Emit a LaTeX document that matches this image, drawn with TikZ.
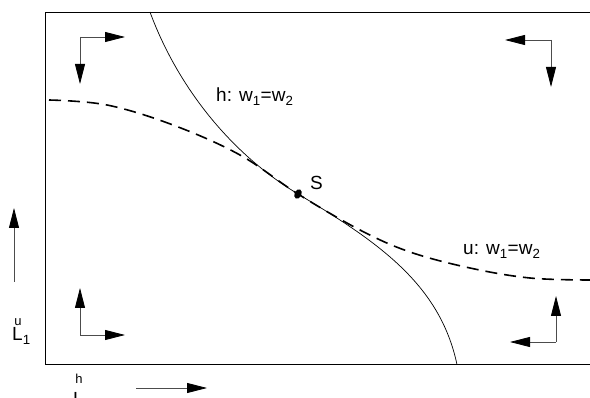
\documentclass[tikz,border=0pt]{standalone}
\usepackage{fontspec}
\setmainfont{Liberation Sans}
\usetikzlibrary{arrows.meta,shapes.geometric}

\begin{document}
\begin{tikzpicture}[x=1pt,y=-1pt,
  dirarrow/.style={-{Triangle[length=20pt,width=10pt,color=black]}, line width=0.8pt, draw=black!70},
  curvelabel/.style={anchor=base west, inner sep=0pt, font=\fontsize{19}{22}\selectfont},
  axislabel/.style={anchor=base west, inner sep=0pt, font=\fontsize{19}{22}\selectfont},
  hcurve/.style={line width=0.7pt},
  ucurve/.style={line width=1.6pt, dash pattern=on 12pt off 7pt}
]
\useasboundingbox (0,0) rectangle (590,398);

\draw[line width=0.9pt] (595,12) -- (45,12) -- (45,364.5) -- (595,364.5);

\draw[hcurve] (150,12) .. controls (175,80) and (225,150) .. (298,194)
  .. controls (380,243) and (440,285) .. (457,364.5);
\draw[ucurve] plot[smooth, tension=0.6] coordinates {(49,100) (107,105) (173,125) (240,155) (298,194) (360,230) (410,252) (470,268) (530,278) (590,280)};

\node[fill, ellipse, minimum width=7pt, minimum height=10pt, inner sep=0pt, rotate=-25] (sdot) at (298,194) {};
\node[curvelabel] (slbl) at (310,190) {S};
\node[curvelabel] (hlbl) at (216,102) {h: w\textsubscript{1}=w\textsubscript{2}};
\node[curvelabel] (ulbl) at (463,255) {u: w\textsubscript{1}=w\textsubscript{2}};

\coordinate (tl) at (80,37);
\coordinate (tlr) at (125,37);
\coordinate (tld) at (80,84);
\draw[dirarrow] (tl) -- (tlr);
\draw[dirarrow] (tl) -- (tld);

\coordinate (tr) at (551,40);
\coordinate (trl) at (505,40);
\coordinate (trd) at (551,87);
\draw[dirarrow] (tr) -- (trl);
\draw[dirarrow] (tr) -- (trd);

\coordinate (bl) at (80,335);
\coordinate (blr) at (125,335);
\coordinate (blu) at (80,288);
\draw[dirarrow] (bl) -- (blr);
\draw[dirarrow] (bl) -- (blu);

\coordinate (br) at (556,342);
\coordinate (brl) at (510,342);
\coordinate (bru) at (556,296);
\draw[dirarrow] (br) -- (brl);
\draw[dirarrow] (br) -- (bru);

\coordinate (vtail) at (14,282);
\coordinate (vtip) at (14,208);
\draw[dirarrow] (vtail) -- (vtip);
\coordinate (htail) at (136,388);
\coordinate (htip) at (207,388);
\draw[dirarrow] (htail) -- (htip);

\node[axislabel] (lu) at (12,341)
  {\rlap{\raisebox{15pt}{\fontsize{13}{13}\selectfont\,u}}L\textsubscript{1}};
\node[axislabel] (lh) at (73,406)
  {\rlap{\raisebox{22pt}{\fontsize{13}{13}\selectfont\,h}}L\textsubscript{1}};
\end{tikzpicture}
\end{document}
